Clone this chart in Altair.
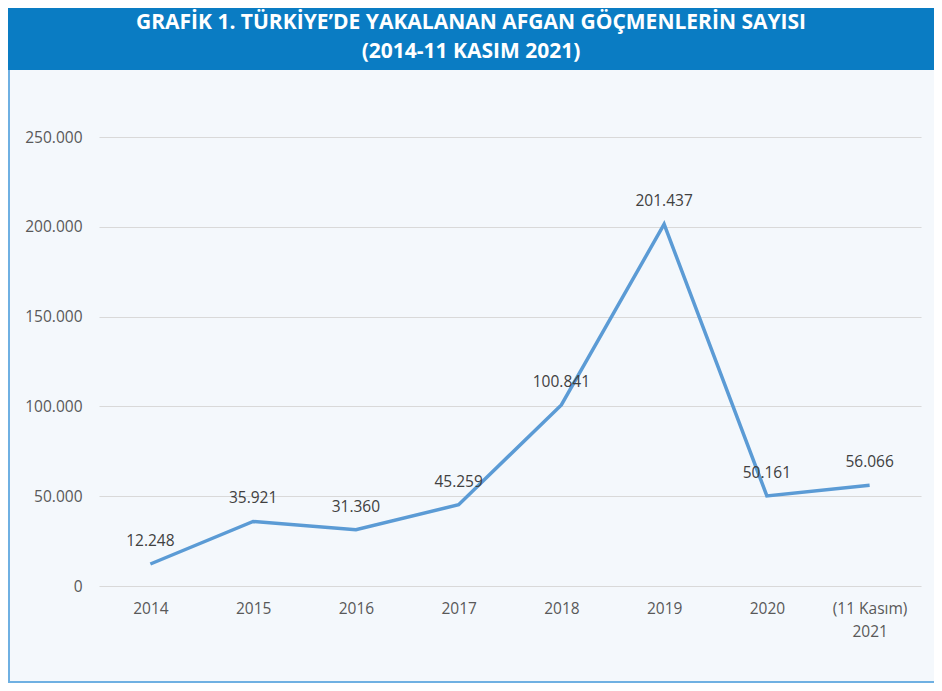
import altair as alt
import pandas as pd

years = ["2014", "2015", "2016", "2017", "2018", "2019", "2020", "(11 Kasım)|2021"]
values = [12248, 35921, 31360, 45259, 100841, 201437, 50161, 56066]
title_lines = ["GRAFİK 1. TÜRKİYE’DE YAKALANAN AFGAN GÖÇMENLERİN SAYISI", "(2014-11 KASIM 2021)"]

df = pd.DataFrame({"yil": years, "sayi": values})

W, H = 822, 449
PL, PT, PR, PB = 91, 129, 13, 97
FS = 15.5

x_enc = alt.X("yil:N", sort=None, title=None,
              scale=alt.Scale(type="point", padding=0.5),
              axis=alt.Axis(labelExpr="split(datum.value, '|')", labelAngle=0,
                            labelFont="Open Sans", labelFontSize=FS, labelColor="#595959",
                            labelPadding=15, labelLineHeight=23, ticks=False, domain=False,
                            grid=False))
y_enc = alt.Y("sayi:Q", title=None,
              scale=alt.Scale(domain=[0, 250000], nice=False),
              axis=alt.Axis(values=[0, 50000, 100000, 150000, 200000, 250000], format=",d",
                            labelFont="Open Sans", labelFontSize=FS, labelColor="#595959",
                            labelPadding=17, ticks=False, domain=False,
                            gridColor="#d9d9d9", gridWidth=1))

base = alt.Chart(df)
line = base.mark_line(color="#5b9bd5", strokeWidth=3.5).encode(x=x_enc, y=y_enc)
labels = base.mark_text(dy=-23, font="Open Sans", fontSize=FS, color="#404040",
                        baseline="middle", align="center").encode(
    x=alt.X("yil:N", sort=None), y="sayi:Q", text=alt.Text("sayi:Q", format=",d"))

one = pd.DataFrame({"a": [0]})
banner = alt.Chart(one).mark_rect(color="#0a7cc3").encode(
    x=alt.value(-PL), x2=alt.value(W + PR), y=alt.value(-PT), y2=alt.value(-67))
t1 = alt.Chart(one).mark_text(text=title_lines[0], font="Open Sans", fontWeight="bold",
                              fontSize=21, color="white", align="center", baseline="middle").encode(
    x=alt.value(372), y=alt.value(-114))
t2 = alt.Chart(one).mark_text(text=title_lines[1], font="Open Sans", fontWeight="bold",
                              fontSize=21, color="white", align="center", baseline="middle").encode(
    x=alt.value(372), y=alt.value(-85))
left_border = alt.Chart(one).mark_rule(color="#6fb0e2", strokeWidth=2).encode(
    x=alt.value(-PL + 1), y=alt.value(-67), y2=alt.value(H + PB))
bottom_border = alt.Chart(one).mark_rule(color="#6fb0e2", strokeWidth=2).encode(
    x=alt.value(-PL), x2=alt.value(W + PR), y=alt.value(H + PB - 1))

chart = alt.layer(banner, t1, t2, left_border, bottom_border, line, labels).properties(
    width=W, height=H,
    autosize=alt.AutoSizeParams(type="none"),
    padding={"left": PL, "top": PT, "right": PR, "bottom": PB},
    background="#f4f8fc",
).configure(
    locale={"number": {"decimal": ",", "thousands": ".", "grouping": [3], "currency": ["", "₺"]}}
).configure_view(stroke=None)

chart.save("out.html", embed_options={"renderer": "svg", "actions": False})
